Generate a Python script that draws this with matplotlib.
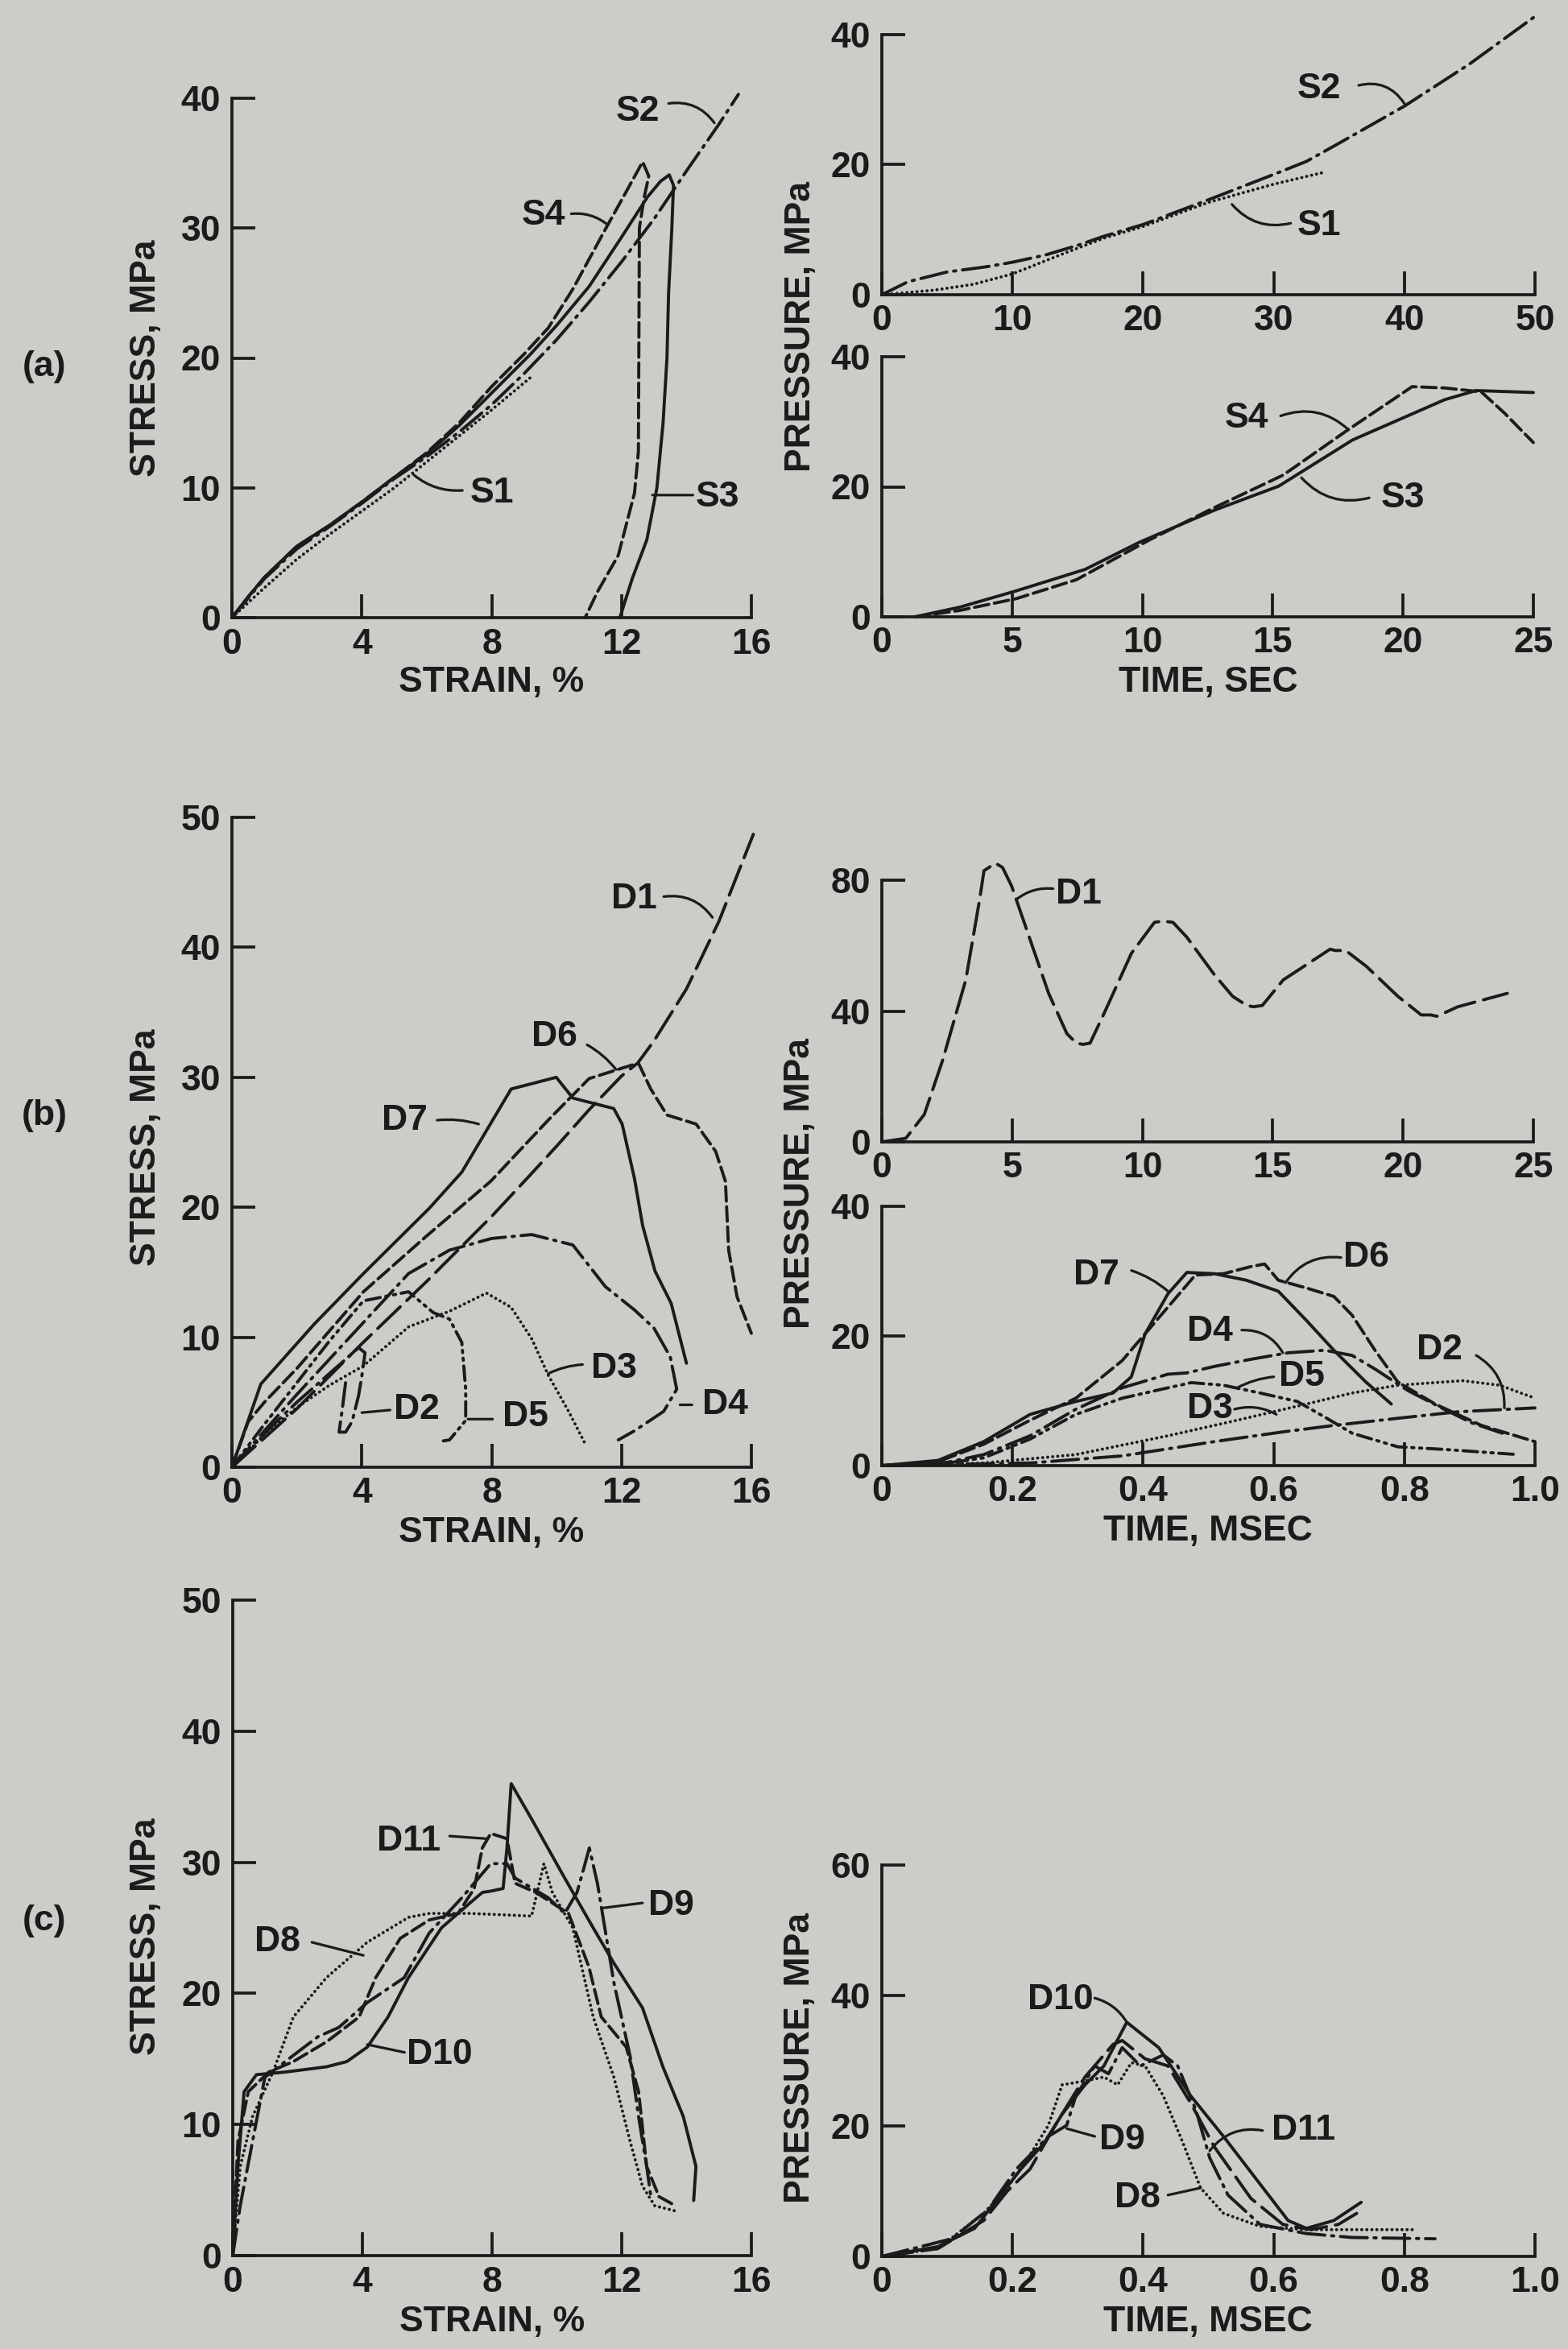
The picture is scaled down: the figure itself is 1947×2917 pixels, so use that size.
import matplotlib
matplotlib.use("Agg")
import matplotlib.pyplot as plt

plt.rcParams['font.family'] = ['Liberation Sans', 'DejaVu Sans']
plt.rcParams['font.weight'] = 'bold'
plt.rcParams['lines.scale_dashes'] = False

# ---------------- data ----------------
# (a) static stress-strain
aS1_x = [0, 1, 2, 3, 4, 5, 6, 7, 8, 9.2]
aS1_y = [0, 2.3, 4.5, 6.4, 8.2, 10.0, 12.0, 14.0, 16.0, 18.5]
aS2_x = [0, 0.5, 1, 2, 3, 4, 5, 6, 7, 8, 9, 10, 11, 12, 13, 14, 15, 15.6]
aS2_y = [0, 1.5, 3, 5.3, 7, 8.8, 10.7, 12.4, 14.3, 16.4, 18.8, 21.4, 24.3, 27.4, 30.7, 34.4, 38.0, 40.3]
aS3_x = [0, 0.5, 1, 2, 3, 4, 5, 6, 7, 8, 9.2, 10, 11, 12, 12.8, 13.2, 13.47, 13.6, 13.55, 13.45, 13.4, 13.28, 13.09, 12.78, 12.33, 11.95]
aS3_y = [0, 1.6, 3.1, 5.5, 7.1, 8.9, 10.8, 12.6, 14.8, 17.3, 20.3, 22.5, 25.5, 29.3, 32.4, 33.6, 34.1, 33.3, 30, 25, 20, 15, 10, 6, 3, 0]
aS4_x = [0, 0.5, 1, 2, 3, 4, 5, 6, 7, 8, 9, 9.74, 10.5, 11.5, 12.1, 12.65, 12.84, 12.7, 12.55, 12.52, 12.4, 11.9, 11.26, 10.88]
aS4_y = [0, 1.6, 3.1, 5.5, 7.1, 8.9, 10.8, 12.7, 15.0, 17.8, 20.3, 22.3, 25.3, 29.9, 32.6, 35.1, 34.0, 32.4, 30, 12.8, 9.6, 4.8, 2.0, 0]

# (a) static pressure-time
aS2t_x = [0, 2, 5, 8, 10, 12.5, 15, 17, 20, 25, 30, 32.5, 35, 40, 45, 50]
aS2t_y = [0, 2.0, 3.5, 4.3, 5.0, 6.1, 7.6, 9.0, 10.8, 14.6, 18.5, 20.5, 23.3, 29.0, 35.5, 42.8]
aS1t_x = [0, 4, 7, 10, 12, 14, 17, 20, 25, 30, 34]
aS1t_y = [0, 0.7, 1.6, 3.2, 4.8, 6.4, 8.7, 10.5, 14.2, 17.0, 18.9]
aS3t_x = [1.27, 3, 5.16, 7.8, 9.9, 12.76, 15.23, 18.06, 21.6, 22.8, 25]
aS3t_y = [0, 1.5, 4.0, 7.3, 11.5, 16.4, 20.1, 27.2, 33.4, 34.8, 34.5]
aS4t_x = [1.27, 3, 5.16, 7.46, 10.3, 12.76, 15.4, 17.9, 20.35, 21.6, 23.0, 23.9, 25.0]
aS4t_y = [0, 1.0, 2.8, 5.7, 11.9, 16.8, 21.8, 28.8, 35.4, 35.2, 34.6, 31.3, 26.8]

# (b) dynamic stress-strain
bD1_x = [0, 2, 4, 6, 8, 9.23, 10, 11, 12, 12.5, 13, 14, 15, 16.06]
bD1_y = [0, 4.5, 9.5, 14.3, 19.3, 22.6, 24.7, 27.5, 30.1, 31.1, 32.8, 36.8, 42.0, 48.7]
bD2_x = [0, 1, 2, 3, 3.5, 3.9, 4.1, 4.0, 3.9, 3.7, 3.5, 3.3, 3.4, 3.5]
bD2_y = [0, 2.6, 5.0, 7.2, 8.3, 9.2, 8.8, 7.0, 5.5, 3.5, 2.7, 2.7, 4.5, 6.5]
bD3_x = [0, 1, 2, 3, 4.05, 5.44, 6.7, 7.84, 8.6, 9.23, 9.74, 10.37, 10.88]
bD3_y = [0, 2.5, 4.6, 6.3, 7.8, 10.8, 12.0, 13.4, 12.3, 9.9, 7.1, 4.3, 1.8]
bD4_x = [0, 1, 2, 3, 4, 5.44, 6.7, 8.0, 9.23, 10.5, 11.5, 12.4, 13.0, 13.5, 13.7, 13.3, 12.4, 11.9]
bD4_y = [0, 2.8, 5.6, 8.3, 11.0, 14.9, 16.7, 17.6, 17.9, 17.1, 13.9, 12.1, 10.7, 8.5, 6.0, 4.3, 2.8, 2.1]
bD5_x = [0, 1, 2, 3, 4.05, 5.44, 6.2, 6.7, 7.08, 7.2, 7.2, 6.7, 6.45]
bD5_y = [0, 3.3, 6.5, 9.7, 12.8, 13.5, 11.9, 11.4, 9.6, 6.0, 3.6, 2.1, 2.0]
bD6_x = [0, 0.5, 1, 2, 4.05, 6, 7.97, 9.74, 11.0, 12.52, 12.9, 13.4, 14.3, 14.9, 15.2, 15.3, 15.56, 16.0]
bD6_y = [0, 3.5, 5.0, 7.6, 13.5, 17.8, 22.0, 26.7, 29.9, 31.1, 29.1, 27.1, 26.4, 24.3, 22.0, 16.7, 13.1, 10.3]
bD7_x = [0, 0.89, 2.53, 4.05, 6.07, 7.08, 8.6, 9.99, 10.5, 11.76, 12.02, 12.4, 12.65, 13.03, 13.53, 14.0]
bD7_y = [0, 6.4, 11.0, 14.9, 19.9, 22.7, 29.1, 30.0, 28.4, 27.6, 26.4, 22.2, 18.6, 15.1, 12.6, 8.0]

# (b) dynamic pressure-time, D1 (msec 0-25)
bD1t_x = [0, 0.92, 1.63, 2.33, 3.22, 3.75, 3.92, 4.36, 4.63, 4.98, 5.69, 6.4, 7.1, 7.46, 7.72, 7.99, 8.5, 9.58, 10.46, 10.8, 11.17, 11.7, 12.76, 13.46, 14.0, 14.26, 14.6, 15.4, 17.2, 17.4, 17.8, 18.6, 19.8, 20.7, 21.06, 21.3, 22.1, 24.0]
bD1t_y = [0, 1.1, 8.4, 24.9, 49.5, 74.0, 82.9, 85.2, 83.9, 78.2, 61.8, 45.4, 33.1, 30.2, 29.8, 30.2, 38.8, 57.7, 67.1, 67.5, 67.1, 62.6, 51.1, 44.5, 41.7, 41.3, 41.7, 49.5, 58.9, 58.5, 58.5, 53.6, 44.5, 38.8, 38.8, 38.4, 41.3, 45.4]

# (b) dynamic pressure-time, D2-D7 (msec 0-1)
bD2t_x = [0, 0.227, 0.368, 0.509, 0.614, 0.692, 0.79, 0.882, 1.0]
bD2t_y = [0, 0.4, 1.5, 3.7, 5.2, 6.2, 7.3, 8.3, 8.9]
bD3t_x = [0, 0.156, 0.297, 0.438, 0.544, 0.65, 0.72, 0.79, 0.889, 0.946, 1.0]
bD3t_y = [0, 0.4, 1.7, 4.6, 7.0, 9.5, 11.2, 12.4, 13.1, 12.4, 10.4]
bD4t_x = [0, 0.1, 0.156, 0.227, 0.297, 0.368, 0.438, 0.467, 0.509, 0.565, 0.622, 0.678, 0.72, 0.755, 0.805, 0.861, 0.903, 0.95]
bD4t_y = [0, 0.5, 1.7, 4.6, 8.7, 12.0, 14.1, 14.3, 15.3, 16.4, 17.4, 17.8, 17.0, 14.9, 11.6, 8.7, 6.6, 5.0]
bD5t_x = [0, 0.1, 0.156, 0.227, 0.297, 0.368, 0.438, 0.474, 0.523, 0.579, 0.636, 0.678, 0.72, 0.79, 0.861, 0.974]
bD5t_y = [0, 0.4, 1.2, 4.1, 7.9, 10.4, 12.0, 12.8, 12.4, 11.2, 9.9, 7.5, 5.0, 2.9, 2.5, 1.7]
bD6t_x = [0, 0.086, 0.156, 0.227, 0.297, 0.368, 0.424, 0.48, 0.523, 0.565, 0.586, 0.607, 0.65, 0.692, 0.72, 0.755, 0.79, 0.847, 0.918, 1.0]
bD6t_y = [0, 0.6, 3.3, 7.0, 10.4, 16.2, 22.8, 29.4, 29.6, 30.7, 31.1, 28.6, 27.4, 26.1, 23.2, 17.8, 12.9, 9.5, 6.2, 3.7]
bD7t_x = [0, 0.086, 0.156, 0.227, 0.297, 0.354, 0.382, 0.403, 0.438, 0.467, 0.509, 0.558, 0.607, 0.65, 0.692, 0.741, 0.78]
bD7t_y = [0, 0.8, 3.7, 7.9, 9.9, 11.2, 13.7, 20.3, 26.5, 29.8, 29.6, 28.6, 26.9, 22.4, 17.8, 12.9, 9.5]

# (c) dynamic stress-strain
cD8_x = [0, 0.23, 0.61, 1.24, 1.87, 2.89, 4.15, 5.42, 6.06, 7.32, 9.22, 9.6, 9.86, 10.49, 11.12, 11.76, 12.26, 12.64, 13.02, 13.66]
cD8_y = [0, 6.8, 10.6, 14.0, 18.2, 21.2, 23.9, 25.8, 26.1, 26.1, 25.9, 29.9, 27.7, 25.0, 18.2, 13.6, 8.7, 5.3, 3.8, 3.4]
cD9_x = [0, 0.23, 0.61, 0.99, 1.62, 2.63, 3.27, 4.15, 5.29, 6.06, 7.07, 7.96, 8.46, 8.71, 9.73, 10.24, 10.62, 10.87, 11.0, 11.25, 11.76, 12.26, 12.52, 12.77, 12.9]
cD9_y = [0, 3.8, 8.7, 13.6, 14.8, 16.7, 17.4, 19.3, 21.2, 24.6, 27.3, 29.9, 29.9, 28.8, 27.3, 26.1, 27.7, 29.9, 31.1, 28.4, 20.8, 15.2, 10.6, 6.8, 4.5]
cD10_x = [0, 0.16, 0.35, 0.73, 1.62, 2.89, 3.52, 4.15, 4.79, 5.42, 6.44, 7.32, 7.7, 7.96, 8.34, 8.46, 8.59, 9.22, 10.24, 11.12, 11.76, 12.64, 13.27, 13.9, 14.29, 14.22]
cD10_y = [0, 6.8, 12.5, 13.8, 14.0, 14.4, 14.8, 15.9, 18.2, 21.2, 25.0, 26.9, 27.7, 27.8, 28.0, 31.1, 36.0, 33.3, 28.8, 25.0, 22.3, 18.9, 14.4, 10.6, 6.8, 4.2]
cD11_x = [0, 0.16, 0.48, 1.11, 1.87, 2.89, 3.9, 4.41, 5.17, 6.06, 6.95, 7.45, 7.7, 7.96, 8.46, 8.71, 9.35, 10.36, 10.99, 11.37, 12.14, 12.52, 12.77, 13.15, 13.66]
cD11_y = [0, 8.7, 12.5, 14.0, 14.8, 16.3, 18.2, 21.2, 24.2, 25.6, 26.1, 28.0, 31.1, 32.2, 31.8, 28.4, 27.7, 26.1, 22.0, 18.2, 15.9, 12.5, 6.8, 4.5, 3.8]

# (c) dynamic pressure-time
cD8t_x = [0, 0.086, 0.156, 0.192, 0.227, 0.255, 0.276, 0.311, 0.34, 0.361, 0.382, 0.403, 0.431, 0.459, 0.488, 0.523, 0.579, 0.65, 0.812]
cD8t_y = [0, 1.2, 6.6, 10.5, 15.6, 20.1, 26.3, 26.9, 27.5, 26.3, 29.7, 29.2, 24.6, 17.9, 10.5, 6.6, 4.6, 4.1, 4.1]
cD9t_x = [0, 0.107, 0.163, 0.206, 0.255, 0.283, 0.297, 0.326, 0.347, 0.368, 0.396, 0.431, 0.453, 0.481, 0.502, 0.53, 0.579, 0.65, 0.72, 0.847]
cD9t_y = [0, 2.7, 7.2, 13.4, 18.4, 20.1, 24.6, 29.2, 28.0, 32.0, 29.2, 30.9, 29.2, 22.4, 15.1, 9.4, 4.9, 3.5, 2.9, 2.7]
cD10t_x = [0, 0.086, 0.142, 0.178, 0.213, 0.248, 0.276, 0.311, 0.34, 0.375, 0.424, 0.473, 0.523, 0.579, 0.622, 0.65, 0.692, 0.734]
cD10t_y = [0, 1.5, 4.3, 8.9, 13.4, 17.3, 21.8, 26.3, 29.2, 35.9, 32.0, 24.6, 18.4, 11.1, 5.5, 4.3, 5.5, 8.3]
cD11t_x = [0, 0.086, 0.156, 0.192, 0.227, 0.269, 0.311, 0.354, 0.368, 0.403, 0.438, 0.473, 0.509, 0.565, 0.614, 0.657, 0.699, 0.727]
cD11t_y = [0, 1.2, 5.5, 10.0, 13.4, 20.7, 27.5, 32.5, 33.1, 30.3, 29.2, 23.5, 16.8, 8.9, 4.9, 4.1, 4.9, 6.6]

# tick labels
strain_ticks = [0, 4, 8, 12, 16]
stress40_ticks = [0, 10, 20, 30, 40]
stress50_ticks = [0, 10, 20, 30, 40, 50]
sec50_ticks = [0, 10, 20, 30, 40, 50]
sec25_ticks = [0, 5, 10, 15, 20, 25]
p40_ticks = [0, 20, 40]
p80_ticks = [0, 40, 80]
p60_ticks = [0, 20, 40, 60]
msec_ticks = [0, 0.2, 0.4, 0.6, 0.8, 1.0]
msec_labels = ['0', '0.2', '0.4', '0.6', '0.8', '1.0']

# ---------------- styling ----------------
W, H = 1947, 2917
BG = '#cccdc9'
INK = '#1b1b1b'
FS = 32
LW = 2.8

SOLID = '-'
DOT = (0, (0.1, 4.4))
DASH = (0, (13, 5))
LDASH = (0, (28, 8))
DASHDOT = (0, (24, 6, 2, 6))
DASHDOT2 = (0, (13, 5, 2, 5, 2, 5))

fig = plt.figure(figsize=(W / 100, H / 100), dpi=100, facecolor=BG)


def make_ax(x0, x1, y0, y1, xlim, ylim, xt, yt, xtl=None):
    ax = fig.add_axes([x0 / W, 1 - y0 / H, (x1 - x0) / W, (y0 - y1) / H])
    ax.set_facecolor(BG)
    ax.patch.set_alpha(0)
    for s in ['top', 'right']:
        ax.spines[s].set_visible(False)
    for s in ['left', 'bottom']:
        ax.spines[s].set_linewidth(2.7)
        ax.spines[s].set_color(INK)
    ax.set_xlim(*xlim)
    ax.set_ylim(*ylim)
    ax.set_xticks(xt)
    if xtl is not None:
        ax.set_xticklabels(xtl)
    ax.set_yticks(yt)
    ax.tick_params(direction='in', length=21, width=2.7, colors=INK,
                   labelsize=FS, labelcolor=INK)
    ax.tick_params(axis='x', pad=9)
    ax.tick_params(axis='y', pad=10)
    for t in ax.get_xticklabels() + ax.get_yticklabels():
        t.set_fontweight('bold')
    return ax


def curve(ax, x, y, ls):
    ax.plot(x, y, color=INK, lw=LW, ls=ls, clip_on=False,
            dash_capstyle='round', solid_capstyle='round', solid_joinstyle='round')


def label(ax, name, pos, start, end, rad=0.0):
    ax.text(pos[0], pos[1], name, fontsize=FS, color=INK, ha='center', va='center',
            fontweight='bold')
    ax.annotate('', xy=end, xytext=start,
                arrowprops=dict(arrowstyle='-', lw=2.3, color=INK,
                                shrinkA=0, shrinkB=0,
                                connectionstyle=f'arc3,rad={rad}'),
                annotation_clip=False)


# ---- (a) left
ax = make_ax(288, 933, 767, 122, (0, 16), (0, 40), strain_ticks, stress40_ticks)
curve(ax, aS1_x, aS1_y, DOT)
curve(ax, aS2_x, aS2_y, DASHDOT)
curve(ax, aS3_x, aS3_y, SOLID)
curve(ax, aS4_x, aS4_y, DASH)
label(ax, 'S2', (12.5, 39.0), (13.45, 39.6), (14.86, 38.1), -0.3)
label(ax, 'S4', (9.6, 31.0), (10.45, 31.1), (11.55, 30.3), -0.2)
label(ax, 'S1', (8.0, 9.6), (7.1, 9.8), (5.6, 11.0), -0.2)
label(ax, 'S3', (14.95, 9.3), (14.2, 9.44), (12.95, 9.44), 0)

# ---- (a) right top
ax = make_ax(1095, 1906, 366, 43, (0, 50), (0, 40), sec50_ticks, p40_ticks)
curve(ax, aS1t_x, aS1t_y, DOT)
curve(ax, aS2t_x, aS2t_y, DASHDOT)
label(ax, 'S2', (33.5, 31.7), (36.5, 32.2), (40.0, 29.4), -0.35)
label(ax, 'S1', (33.5, 10.6), (31.3, 11.0), (26.8, 13.9), -0.3)

# ---- (a) right bottom
ax = make_ax(1095, 1904, 766, 443, (0, 25), (0, 40), sec25_ticks, p40_ticks)
curve(ax, aS3t_x, aS3t_y, SOLID)
curve(ax, aS4t_x, aS4t_y, DASH)
label(ax, 'S4', (14.0, 30.5), (15.3, 30.9), (17.9, 28.8), -0.3)
label(ax, 'S3', (20.0, 18.3), (18.7, 18.3), (16.1, 21.4), -0.3)

# ---- (b) left
ax = make_ax(288, 933, 1822, 1015, (0, 16), (0, 50), strain_ticks, stress50_ticks)
curve(ax, bD1_x, bD1_y, LDASH)
curve(ax, bD2_x, bD2_y, DASHDOT)
curve(ax, bD3_x, bD3_y, DOT)
curve(ax, bD4_x, bD4_y, DASHDOT)
curve(ax, bD5_x, bD5_y, DASHDOT2)
curve(ax, bD6_x, bD6_y, DASH)
curve(ax, bD7_x, bD7_y, SOLID)
label(ax, 'D1', (12.4, 43.7), (13.3, 43.9), (14.8, 42.3), -0.3)
label(ax, 'D6', (9.93, 33.1), (10.94, 32.5), (11.83, 30.6), -0.1)
label(ax, 'D7', (5.31, 26.7), (6.32, 26.7), (7.6, 26.4), -0.1)
label(ax, 'D3', (11.76, 7.6), (10.8, 7.9), (9.74, 7.2), 0.1)
label(ax, 'D2', (5.69, 4.4), (4.87, 4.4), (4.0, 4.2), 0)
label(ax, 'D5', (9.04, 3.9), (8.03, 3.7), (7.27, 3.7), 0)
label(ax, 'D4', (15.18, 4.8), (14.17, 4.8), (13.8, 4.8), 0)

# ---- (b) right top
ax = make_ax(1095, 1904, 1418, 1093, (0, 25), (0, 80), sec25_ticks, p80_ticks)
curve(ax, bD1t_x, bD1t_y, LDASH)
label(ax, 'D1', (7.54, 75.7), (6.57, 77.4), (5.16, 74.1), 0.2)

# ---- (b) right bottom
ax = make_ax(1095, 1906, 1820, 1498, (0, 1.0), (0, 40), msec_ticks, p40_ticks, msec_labels)
curve(ax, bD2t_x, bD2t_y, DASHDOT)
curve(ax, bD3t_x, bD3t_y, DOT)
curve(ax, bD4t_x, bD4t_y, DASHDOT)
curve(ax, bD5t_x, bD5t_y, DASHDOT2)
curve(ax, bD6t_x, bD6t_y, DASH)
curve(ax, bD7t_x, bD7t_y, SOLID)
label(ax, 'D7', (0.329, 29.4), (0.382, 30.1), (0.438, 26.9), -0.1)
label(ax, 'D6', (0.741, 32.1), (0.703, 32.1), (0.618, 28.2), 0.3)
label(ax, 'D4', (0.502, 20.7), (0.551, 20.9), (0.614, 17.4), -0.3)
label(ax, 'D5', (0.643, 13.7), (0.600, 13.7), (0.544, 12.0), 0.1)
label(ax, 'D3', (0.502, 8.7), (0.540, 8.7), (0.604, 7.9), -0.2)
label(ax, 'D2', (0.854, 17.8), (0.910, 17.0), (0.953, 8.9), -0.3)

# ---- (c) left
ax = make_ax(289, 933, 2801, 1987, (0, 16), (0, 50), strain_ticks, stress50_ticks)
curve(ax, cD8_x, cD8_y, DOT)
curve(ax, cD9_x, cD9_y, DASHDOT)
curve(ax, cD10_x, cD10_y, SOLID)
curve(ax, cD11_x, cD11_y, DASH)
label(ax, 'D11', (5.42, 31.6), (6.69, 32.0), (7.83, 31.8), 0)
label(ax, 'D8', (1.37, 23.9), (2.44, 23.9), (4.03, 22.9), 0)
label(ax, 'D10', (6.37, 15.3), (5.3, 15.5), (4.15, 16.1), 0)
label(ax, 'D9', (13.53, 26.7), (12.64, 26.9), (11.38, 26.5), 0)

# ---- (c) right
ax = make_ax(1095, 1906, 2802, 2316, (0, 1.0), (0, 60), msec_ticks, p60_ticks, msec_labels)
curve(ax, cD8t_x, cD8t_y, DOT)
curve(ax, cD9t_x, cD9t_y, DASHDOT)
curve(ax, cD10t_x, cD10t_y, SOLID)
curve(ax, cD11t_x, cD11t_y, LDASH)
label(ax, 'D10', (0.273, 39.3), (0.326, 39.6), (0.375, 35.9), -0.2)
label(ax, 'D9', (0.368, 17.9), (0.326, 18.4), (0.283, 19.6), 0)
label(ax, 'D11', (0.646, 19.3), (0.583, 19.3), (0.502, 16.2), 0.3)
label(ax, 'D8', (0.392, 8.9), (0.438, 9.4), (0.488, 10.5), 0)

# ---- axis titles & panel letters (figure pixel coords)
def ftext(x, y, s, rot=0):
    fig.text(x / W, 1 - y / H, s, fontsize=FS, color=INK, ha='center', va='center',
             rotation=rot, fontweight='bold')

ftext(182, 445, 'STRESS, MPa', 90)
ftext(182, 1425, 'STRESS, MPa', 90)
ftext(182, 2405, 'STRESS, MPa', 90)
ftext(995, 405, 'PRESSURE, MPa', 90)
ftext(993, 1470, 'PRESSURE, MPa', 90)
ftext(993, 2556, 'PRESSURE, MPa', 90)
ftext(610, 848, 'STRAIN, %')
ftext(610, 1903, 'STRAIN, %')
ftext(611, 2883, 'STRAIN, %')
ftext(1500, 847, 'TIME, SEC')
ftext(1500, 1901, 'TIME, MSEC')
ftext(1500, 2883, 'TIME, MSEC')
ftext(55, 455, '(a)')
ftext(55, 1385, '(b)')
ftext(55, 2386, '(c)')

fig.savefig('out.png', dpi=100, facecolor=BG)
